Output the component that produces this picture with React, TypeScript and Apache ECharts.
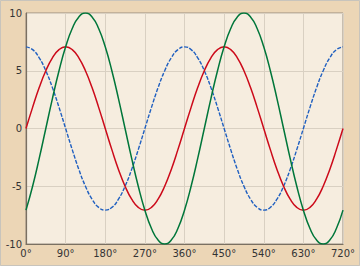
import React, { useEffect, useRef } from "react";
import * as echarts from "echarts";

const angles: number[] = [
  0, 15, 30, 45, 60, 75, 90, 105, 120, 135, 150, 165, 180, 195, 210, 225, 240, 255, 270, 285, 300, 315, 330, 345,
  360, 375, 390, 405, 420, 435, 450, 465, 480, 495, 510, 525, 540, 555, 570, 585, 600, 615, 630, 645, 660, 675, 690, 705, 720,
];

const redValues: number[] = [
  0, 1.83, 3.54, 5.0, 6.12, 6.83, 7.07, 6.83, 6.12, 5.0, 3.54, 1.83, 0, -1.83, -3.54, -5.0, -6.12, -6.83, -7.07, -6.83, -6.12, -5.0, -3.54, -1.83,
  0, 1.83, 3.54, 5.0, 6.12, 6.83, 7.07, 6.83, 6.12, 5.0, 3.54, 1.83, 0, -1.83, -3.54, -5.0, -6.12, -6.83, -7.07, -6.83, -6.12, -5.0, -3.54, -1.83, 0,
];

const blueValues: number[] = [
  7.07, 6.83, 6.12, 5.0, 3.54, 1.83, 0, -1.83, -3.54, -5.0, -6.12, -6.83, -7.07, -6.83, -6.12, -5.0, -3.54, -1.83, 0, 1.83, 3.54, 5.0, 6.12, 6.83,
  7.07, 6.83, 6.12, 5.0, 3.54, 1.83, 0, -1.83, -3.54, -5.0, -6.12, -6.83, -7.07, -6.83, -6.12, -5.0, -3.54, -1.83, 0, 1.83, 3.54, 5.0, 6.12, 6.83, 7.07,
];

const greenValues: number[] = [
  -7.07, -5.0, -2.59, 0, 2.59, 5.0, 7.07, 8.66, 9.66, 10, 9.66, 8.66, 7.07, 5.0, 2.59, 0, -2.59, -5.0, -7.07, -8.66, -9.66, -10, -9.66, -8.66,
  -7.07, -5.0, -2.59, 0, 2.59, 5.0, 7.07, 8.66, 9.66, 10, 9.66, 8.66, 7.07, 5.0, 2.59, 0, -2.59, -5.0, -7.07, -8.66, -9.66, -10, -9.66, -8.66, -7.07,
];

const xTicks: number[] = [0, 90, 180, 270, 360, 450, 540, 630, 720];
const yTicks: number[] = [-10, -5, 0, 5, 10];

export default function App() {
  const ref = useRef<HTMLDivElement>(null);
  useEffect(() => {
    document.body.style.margin = "0";
    if (!ref.current) return;
    const chart = echarts.init(ref.current, null, { renderer: "svg" });
    const pair = (vals: number[]) => angles.map((a, i) => [a, vals[i]]);
    const font = "DejaVu Sans";
    chart.setOption({
      animation: false,
      backgroundColor: "#ecd6b6",
      graphic: [
        {
          type: "rect",
          shape: { x: 0.5, y: 0.5, width: 359, height: 265 },
          style: { fill: "none", stroke: "#c8c4bc", lineWidth: 1 },
          silent: true,
        },
      ],
      grid: {
        left: 26,
        right: 17,
        top: 13,
        bottom: 22,
        show: true,
        backgroundColor: "#f6eddf",
        borderColor: "#9a8f80",
        borderWidth: 1,
      },
      xAxis: {
        type: "value",
        min: xTicks[0],
        max: xTicks[xTicks.length - 1],
        interval: 90,
        axisLine: { show: true, onZero: false, lineStyle: { color: "#7a7062", width: 1.2 } },
        axisTick: { show: false },
        splitLine: { show: true, lineStyle: { color: "#d9d0c2", width: 1 } },
        axisLabel: {
          color: "#333",
          fontFamily: font,
          fontSize: 10,
          margin: 4,
          formatter: (v: number) => v + "°",
        },
      },
      yAxis: {
        type: "value",
        min: yTicks[0],
        max: yTicks[yTicks.length - 1],
        interval: 5,
        axisLine: { show: true, onZero: false, lineStyle: { color: "#7a7062", width: 1.2 } },
        axisTick: { show: false },
        splitLine: { show: true, lineStyle: { color: "#d9d0c2", width: 1 } },
        axisLabel: { color: "#333", fontFamily: font, fontSize: 10, margin: 4 },
      },
      series: [
        {
          type: "line",
          data: pair(blueValues),
          smooth: true,
          showSymbol: false,
          lineStyle: { color: "#1f5fc0", width: 1.4, type: [4, 1.5] },
          itemStyle: { color: "#1f5fc0" },
        },
        {
          type: "line",
          data: pair(redValues),
          smooth: true,
          showSymbol: false,
          lineStyle: { color: "#cc0a1a", width: 1.5 },
          itemStyle: { color: "#cc0a1a" },
        },
        {
          type: "line",
          data: pair(greenValues),
          smooth: true,
          showSymbol: false,
          lineStyle: { color: "#00763a", width: 1.5 },
          itemStyle: { color: "#00763a" },
        },
      ],
    });
    return () => chart.dispose();
  }, []);
  return <div ref={ref} style={{ width: 360, height: 266 }} />;
}
